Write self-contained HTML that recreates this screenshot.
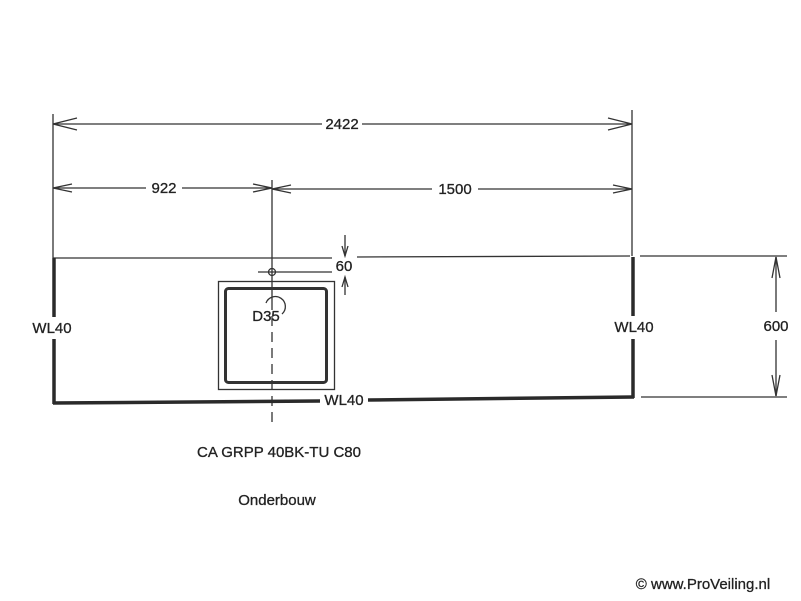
<!DOCTYPE html>
<html><head><meta charset="utf-8"><style>
html,body{margin:0;padding:0;background:#fff;}
svg{display:block;}
text{font-family:"Liberation Sans",Arial,sans-serif;fill:#222;stroke:#222;stroke-width:0.3;}
</style></head><body>
<svg width="801" height="601" viewBox="0 0 801 601" xmlns="http://www.w3.org/2000/svg">
<g stroke="#333" fill="none" stroke-width="1.3">
<line x1="53" y1="114" x2="53" y2="258"/>
<line x1="632" y1="110" x2="632" y2="256"/>
<line x1="272" y1="180" x2="272" y2="300"/>
<line x1="272" y1="300" x2="272" y2="425" stroke-dasharray="10,6"/>
<line x1="53" y1="124" x2="322" y2="124"/>
<line x1="362" y1="124" x2="632" y2="124"/>
<polyline points="77,118 53,124 77,130"/>
<polyline points="608,118 632,124 608,130"/>
<line x1="53" y1="188" x2="146" y2="188"/>
<line x1="182" y1="188" x2="272" y2="188"/>
<polyline points="72,184 53,188 72,192"/>
<polyline points="253,184 272,188 253,192"/>
<line x1="272" y1="189" x2="432" y2="189"/>
<line x1="478" y1="189" x2="632" y2="189"/>
<polyline points="291,185 272,189 291,193"/>
<polyline points="613,185 632,189 613,193"/>
<line x1="53" y1="258" x2="332" y2="258"/>
<line x1="357" y1="257" x2="630" y2="256"/>
<line x1="640" y1="256" x2="787" y2="256"/>
<line x1="641" y1="397" x2="787" y2="397"/>
<line x1="776" y1="257" x2="776" y2="312"/>
<line x1="776" y1="340" x2="776" y2="396"/>
<polyline points="772,278 776,257 780,278"/>
<polyline points="772,375 776,396 780,375"/>
<line x1="345" y1="235" x2="345" y2="256"/>
<polyline points="342,246 345,256 348,246"/>
<line x1="345" y1="277" x2="345" y2="295"/>
<polyline points="342,287 345,277 348,287"/>
<line x1="258" y1="272" x2="332" y2="272"/>
<circle cx="272" cy="272" r="3.5"/>
<rect x="218.5" y="281.5" width="116" height="108"/>
<rect x="225.5" y="288.5" width="101" height="94" rx="3" stroke-width="3"/>
<path d="M266,303 A10,10 0 1 1 282,314"/>
</g>
<g stroke="#2a2a2a" fill="none" stroke-width="3.5">
<line x1="54" y1="258" x2="54" y2="317"/>
<line x1="54" y1="339" x2="54" y2="404"/>
<line x1="53" y1="403" x2="320" y2="401"/>
<line x1="368" y1="400" x2="634" y2="397"/>
<line x1="633" y1="257" x2="633" y2="316"/>
<line x1="633" y1="339" x2="633" y2="398"/>
</g>
<g font-size="15" text-anchor="middle">
<text x="342" y="129">2422</text>
<text x="164" y="193">922</text>
<text x="455" y="194">1500</text>
<text x="344" y="271">60</text>
<text x="266" y="321">D35</text>
<text x="52" y="333">WL40</text>
<text x="634" y="332">WL40</text>
<text x="344" y="405">WL40</text>
<text x="776" y="331">600</text>
<text x="279" y="457">CA GRPP 40BK-TU C80</text>
<text x="277" y="505">Onderbouw</text>
<text x="703" y="589" font-size="15">© www.ProVeiling.nl</text>
</g>
</svg>
</body></html>
